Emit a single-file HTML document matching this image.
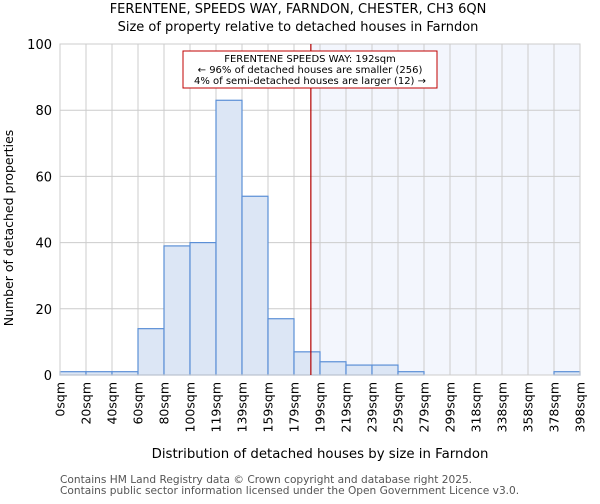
<!DOCTYPE html>
<html><head><meta charset="utf-8"><style>
body{margin:0;background:#fff;font-family:"DejaVu Sans","Liberation Sans",sans-serif}
</style></head><body>
<svg width="600" height="500" xmlns="http://www.w3.org/2000/svg" font-family="DejaVu Sans, Liberation Sans, sans-serif">
<text x="298" y="13" text-anchor="middle" font-size="13">FERENTENE, SPEEDS WAY, FARNDON, CHESTER, CH3 6QN</text>
<text x="298" y="31" text-anchor="middle" font-size="13">Size of property relative to detached houses in Farndon</text>
<g id="plot"></g>
<text x="320" y="458" text-anchor="middle" font-size="13.3">Distribution of detached houses by size in Farndon</text>
<text transform="translate(13,228) rotate(-90)" text-anchor="middle" font-size="12.5">Number of detached properties</text>
<text x="60" y="483" font-size="10.6" fill="#555">Contains HM Land Registry data © Crown copyright and database right 2025.</text>
<text x="60" y="494" font-size="10.6" fill="#555">Contains public sector information licensed under the Open Government Licence v3.0.</text>
</svg>
<script>
const binLabels=["0sqm","20sqm","40sqm","60sqm","80sqm","100sqm","119sqm","139sqm","159sqm","179sqm","199sqm","219sqm","239sqm","259sqm","279sqm","299sqm","318sqm","338sqm","358sqm","378sqm","398sqm"];
const counts=[1,1,1,14,39,40,83,54,17,7,4,3,3,1,0,0,0,0,0,1];
const yTicks=[0,20,40,60,80,100];
const propertySize=192;
const xMin=0,xMax=398;
const L=60,R=580,T=44,B=375;
const NS="http://www.w3.org/2000/svg";
const g=document.getElementById('plot');
function xb(i){return L+(R-L)*i/counts.length;}
function xv(v){return L+(R-L)*(v-xMin)/(xMax-xMin);}
function y(v){return B-(B-T)*v/100;}
function mk(t,a){const e=document.createElementNS(NS,t);for(const k in a)e.setAttribute(k,a[k]);g.appendChild(e);return e;}
const px=xv(propertySize);
let e=mk('rect',{x:px,y:T,width:R-px,height:B-T,fill:'#f3f6fd'});


for(let i=0;i<=counts.length;i++){e=mk('line',{x1:xb(i),x2:xb(i),y1:T,y2:B,stroke:'#cccccc','stroke-width':1});

}
yTicks.forEach(t=>{e=mk('line',{x1:L,x2:R,y1:y(t),y2:y(t),stroke:'#cccccc','stroke-width':1});


e=mk('text',{x:L-8,y:y(t)+5,'text-anchor':'end','font-size':13});e.textContent=t;

});
counts.forEach((c,i)=>{if(c<=0)return;e=mk('rect',{x:xb(i),y:y(c),width:xb(i+1)-xb(i),height:B-y(c),fill:'#dce6f5',stroke:'#5b8fd6','stroke-width':1.2});

});
binLabels.forEach((l,i)=>{e=mk('text',{transform:`translate(${xb(i)+4.5},382) rotate(-90)`,'text-anchor':'end','font-size':12.5});e.textContent=l;

});
e=mk('rect',{x:L,y:T,width:R-L,height:B-T,fill:'none',stroke:'#cccccc'});


e=mk('line',{x1:px,x2:px,y1:T,y2:B,stroke:'#b30000','stroke-width':1.2});


e=mk('rect',{x:183,y:51,width:254,height:37,fill:'#fff',stroke:'#c00000','stroke-width':1});


["FERENTENE SPEEDS WAY: 192sqm","← 96% of detached houses are smaller (256)","4% of semi-detached houses are larger (12) →"].forEach((s,i)=>{
e=mk('text',{x:310,y:62+i*11,'text-anchor':'middle','font-size':10});e.textContent=s;

});
</script>
</body></html>
